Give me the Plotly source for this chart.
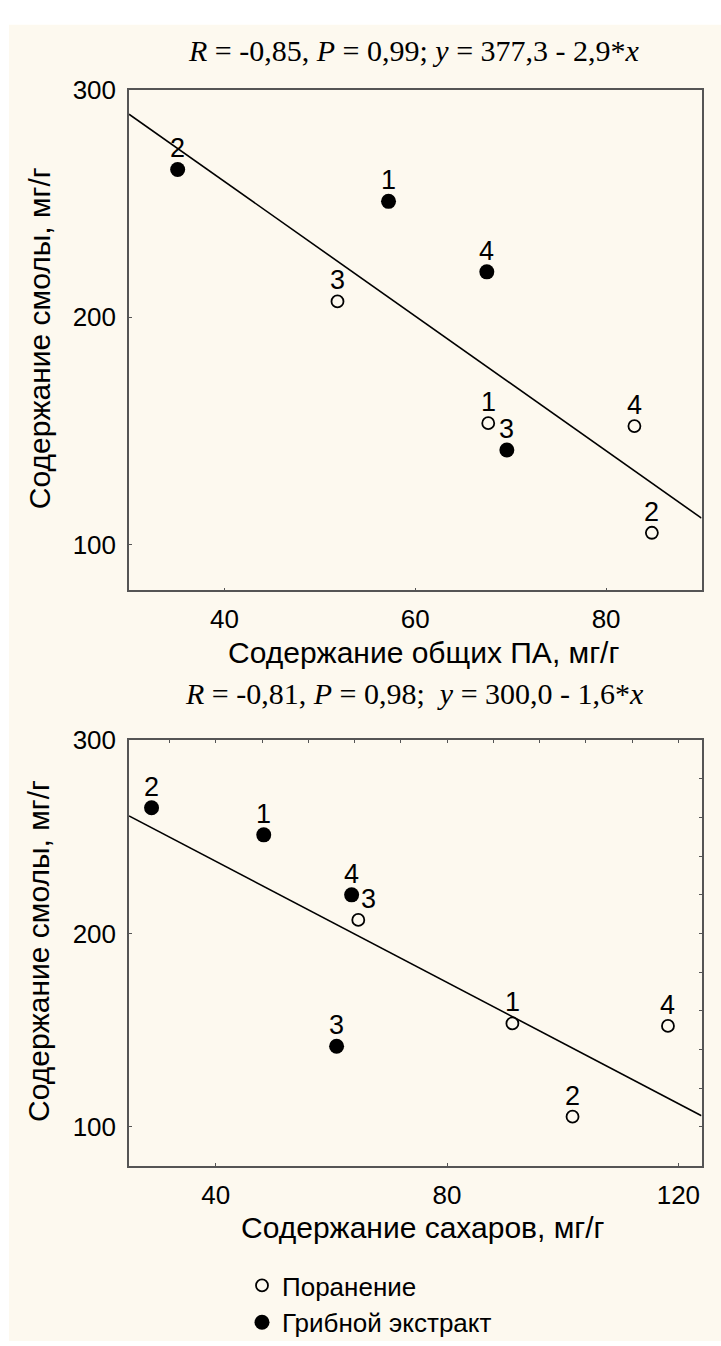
import numpy as np
import plotly.graph_objects as go

W, H = 721, 1346

# Variant numbers (1-4) for both treatments
variants = ["1", "2", "3", "4"]

# Resin content, mg/g
resin_wound = [153.5, 105.3, 207.0, 152.2]
resin_fungal = [251.0, 265.0, 141.7, 220.0]

# Total PA content, mg/g
pa_wound = [67.65, 84.8, 51.85, 82.97]
pa_fungal = [57.2, 35.1, 69.6, 67.5]

# Sugar content, mg/g
sugar_wound = [91.3, 101.7, 64.65, 118.2]
sugar_fungal = [48.3, 28.9, 60.9, 63.5]

series_names = ["Поранение", "Грибной экстракт"]
titles = [
    "<i>R</i> = -0,85, <i>P</i> = 0,99; <i>y</i> = 377,3 - 2,9*<i>x</i>",
    "<i>R</i> = -0,81, <i>P</i> = 0,98;\u00a0 <i>y</i> = 300,0 - 1,6*<i>x</i>",
]
x_titles = ["Содержание общих ПА, мг/г", "Содержание сахаров, мг/г"]
y_title = "Содержание смолы, мг/г"

SANS = "Liberation Sans, Arial, sans-serif"
SERIF = "Liberation Serif, Times New Roman, serif"
CREAM = "#fdf9ef"
AXIS = "#555555"


def px_x(p):
    return p / W


def px_y(p):
    return 1 - p / H


x_dom = [px_x(129), px_x(701.5)]
panels = [
    dict(xa="x", ya="y", xr=[30, 90], top=76, bottom=584, title_y=36,
         xw=pa_wound, xf=pa_fungal, xticks=[40, 60, 80],
         label_dx=[0, 0, 0, 0, 0, 0, 0, 0]),
    dict(xa="x2", ya="y2", xr=[25, 124], top=736, bottom=1168, title_y=689,
         xw=sugar_wound, xf=sugar_fungal, xticks=[40, 80, 120],
         # the "3" of the open point is nudged right, clear of the filled "4" point
         label_dx=[0, 0, 10, 0, 0, 0, 0, 0]),
]
y_range = [80, 300]

fig = go.Figure()
annotations = []

for i, p in enumerate(panels):
    # least-squares regression line over the whole x range
    xs = np.array(p["xw"] + p["xf"])
    ys = np.array(resin_wound + resin_fungal)
    slope, intercept = np.polyfit(xs, ys, 1)
    lx = np.array(p["xr"], dtype=float)
    fig.add_trace(go.Scatter(
        x=lx, y=intercept + slope * lx, mode="lines",
        line=dict(color="black", width=1.6),
        xaxis=p["xa"], yaxis=p["ya"], showlegend=False, hoverinfo="skip"))

    fig.add_trace(go.Scatter(
        x=p["xw"], y=resin_wound, mode="markers", name=series_names[0],
        marker=dict(symbol="circle-open", size=12, color="black",
                    line=dict(width=1.8, color="black")),
        xaxis=p["xa"], yaxis=p["ya"], showlegend=(i == 0)))
    fig.add_trace(go.Scatter(
        x=p["xf"], y=resin_fungal, mode="markers", name=series_names[1],
        marker=dict(symbol="circle", size=15, color="black"),
        xaxis=p["xa"], yaxis=p["ya"], showlegend=(i == 0)))

    # variant numbers above the points
    for xv, yv, lab, dx in zip(p["xw"] + p["xf"], resin_wound + resin_fungal,
                               variants + variants, p["label_dx"]):
        annotations.append(dict(
            x=xv, y=yv, xref=p["xa"], yref=p["ya"], text=lab, showarrow=False,
            yshift=21, xshift=dx, font=dict(family=SANS, size=27, color="black")))

    mid = (p["top"] + p["bottom"]) / 2
    annotations.append(dict(
        x=px_x(414), y=px_y(p["title_y"]), xref="paper", yref="paper",
        text=titles[i], showarrow=False, xanchor="center", yanchor="middle",
        font=dict(family=SERIF, size=30, color="black")))
    annotations.append(dict(
        x=px_x(423), y=px_y(p["bottom"] + 63), xref="paper", yref="paper",
        text=x_titles[i], showarrow=False, xanchor="center", yanchor="middle",
        font=dict(family=SANS, size=30, color="black")))
    annotations.append(dict(
        x=px_x(39), y=px_y(mid - 2), xref="paper", yref="paper",
        text=y_title, showarrow=False, textangle=-90,
        xanchor="center", yanchor="middle",
        font=dict(family=SANS, size=30, color="black")))

axis_common = dict(
    showgrid=False, zeroline=False, showline=True, mirror=True,
    linecolor=AXIS, linewidth=1.5, ticks="inside", ticklen=3,
    tickcolor=AXIS, tickwidth=1, tickfont=dict(family=SANS, size=26, color="black"),
)

layout_axes = {}
for i, p in enumerate(panels):
    sfx = "" if i == 0 else "2"
    y_dom = [px_y(p["bottom"]), px_y(p["top"])]
    layout_axes["xaxis" + sfx] = dict(
        axis_common, domain=x_dom, range=p["xr"], tickvals=p["xticks"],
        anchor="y" + sfx, ticklabelstandoff=5)
    layout_axes["yaxis" + sfx] = dict(
        axis_common, domain=y_dom, range=y_range, tickvals=[100, 200, 300],
        anchor="x" + sfx, ticklabelstandoff=6)

# extra tick rows on the top and right edges of the lower panel
layout_axes["xaxis3"] = dict(
    overlaying="x2", anchor="y2", side="top", range=panels[1]["xr"],
    tick0=0, dtick=8, ticks="inside", ticklen=3, tickcolor=AXIS,
    showticklabels=False, showgrid=False, zeroline=False, showline=False)
layout_axes["yaxis3"] = dict(
    overlaying="y2", anchor="x2", side="right", range=y_range,
    tick0=0, dtick=20, ticks="inside", ticklen=3, tickcolor=AXIS,
    showticklabels=False, showgrid=False, zeroline=False, showline=False)

fig.add_trace(go.Scatter(x=[None], y=[None], xaxis="x3", yaxis="y3",
                         showlegend=False, hoverinfo="skip"))

fig.update_layout(
    width=W, height=H, margin=dict(l=0, r=0, t=0, b=0),
    paper_bgcolor="white", plot_bgcolor="white",
    showlegend=True,
    legend=dict(x=px_x(242), y=px_y(1266), xanchor="left", yanchor="top",
                bgcolor="rgba(0,0,0,0)", font=dict(family=SANS, size=26, color="black"),
                itemwidth=30, tracegroupgap=0),
    shapes=[dict(type="rect", xref="paper", yref="paper",
                 x0=px_x(9), x1=1, y0=0, y1=px_y(10),
                 fillcolor=CREAM, line=dict(width=0), layer="below")],
    annotations=annotations,
    **layout_axes,
)

fig.write_html("out.html")
